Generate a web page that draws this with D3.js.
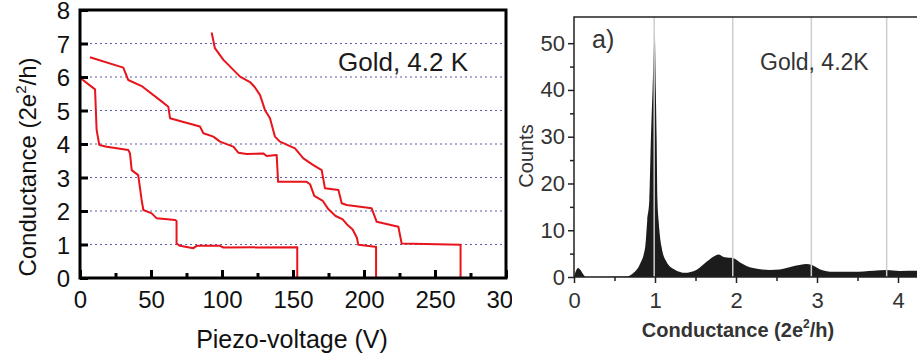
<!DOCTYPE html>
<html lang="en">
<head>
    <meta charset="UTF-8">
    <script src="https://d3js.org/d3.v7.min.js"></script>
    <title>Gold 4.2 K conductance</title>
</head>
<style>
    body{
        margin: 0;
        background: #fff;
    }
    svg text{
        font-family: "Liberation Sans", Arial, sans-serif;
    }
</style>
<body>
    <div id='grafico'></div>
</body>
<script>
    // traces: piezo-voltage (V) vs conductance (2e^2/h)
    var voltsA = [0, 10.6, 11.7, 13.6, 18.8, 34, 35.2, 36.4, 41, 43.4, 44.6, 50.5, 54, 67, 68, 68, 70.4, 79.8, 82.2, 98.6, 101, 153, 153]
    var condA  = [5.98, 5.63, 4.42, 3.97, 3.92, 3.82, 3.72, 3.22, 3.07, 2.33, 2.03, 1.93, 1.78, 1.73, 1.7, 1.03, 0.96, 0.89, 0.96, 0.96, 0.91, 0.92, 0]

    var voltsB = [7, 30.5, 34, 43.4, 56.3, 62.2, 63.4, 71.6, 84.5, 86.9, 93.9, 98.6, 108, 111.5, 117.4, 129, 131.5, 138.5, 139.5, 159.6, 162, 165, 171, 175, 180, 185, 188, 192, 195, 196, 207.7, 208.5, 208.5]
    var condB  = [6.59, 6.28, 5.91, 5.73, 5.31, 5.11, 4.77, 4.67, 4.52, 4.32, 4.22, 4.07, 3.92, 3.74, 3.7, 3.72, 3.64, 3.67, 2.87, 2.87, 2.8, 2.45, 2.3, 2.05, 1.85, 1.75, 1.6, 1.45, 1.2, 0.99, 0.93, 0.93, 0]

    var voltsC = [92.7, 95, 101, 112.7, 119.7, 123, 126.8, 130.3, 133.8, 135.5, 137.3, 140.8, 151.4, 157.3, 164.3, 170.2, 172.5, 182, 184.3, 187.8, 205.4, 208.9, 224.2, 226.5, 268, 268]
    var condC  = [7.33, 6.86, 6.51, 6.01, 5.85, 5.7, 5.46, 5.01, 4.77, 4.5, 4.22, 4.07, 3.87, 3.57, 3.37, 3.22, 2.68, 2.63, 2.23, 2.18, 2.08, 1.68, 1.53, 1.03, 0.99, 0]

    var leftXTicks = [0, 50, 100, 150, 200, 250, 300]
    var leftXMinor = [25, 75, 125, 175, 225, 275]
    var leftYTicks = [0, 1, 2, 3, 4, 5, 6, 7, 8]
    var leftGrid = [1, 2, 3, 4, 5, 6, 7]

    // histogram: conductance (2e^2/h) vs counts
    var histCond   = [0, 0.05, 0.15, 0.65, 0.73, 0.81, 0.88, 0.905, 0.93, 0.95, 0.97, 0.997, 1.01, 1.02, 1.03, 1.045, 1.08, 1.14, 1.25, 1.37, 1.51, 1.64, 1.76, 1.78, 1.86, 1.97, 2.05, 2.21, 2.42, 2.54, 2.73, 2.87, 2.93, 3.04, 3.2, 3.45, 3.7, 3.86, 4.02, 4.23, 4.6]
    var histCounts = [0, 1.9, 0, 0.1, 0.8, 2.6, 6.5, 12.2, 16.5, 30, 40, 52, 40, 30, 16.5, 12, 6.5, 3.3, 1.5, 0.9, 1.5, 3.3, 4.7, 4.8, 4.2, 4.0, 3.1, 1.9, 1.5, 1.6, 2.4, 2.8, 2.6, 1.6, 1.1, 1.1, 1.35, 1.5, 1.3, 1.35, 1.35]
    var histGrid = [0.99, 1.96, 2.93, 3.86]
    var rightXTicks = [0, 1, 2, 3, 4, 5]
    var rightXMinor = [0.5, 1.5, 2.5, 3.5, 4.5]
    var rightYTicks = [0, 10, 20, 30, 40, 50]
    var rightYMinor = [5, 15, 25, 35, 45]

    var svg = d3.select('#grafico')
    .append('svg')
    .attr('width', 917)
    .attr('height', 360)

    // ---------- left panel ----------
    svg.append('clipPath')
    .attr('id', 'corte')
    .append('rect')
    .attr('x', 0).attr('y', 0).attr('width', 512).attr('height', 360)

    var esq = svg.append('g').attr('clip-path', 'url(#corte)')

    var xL = d3.scaleLinear().domain([0, 300]).range([80, 506])
    var yL = d3.scaleLinear().domain([0, 8]).range([278, 10])

    esq.selectAll('.grid')
    .data(leftGrid)
    .enter()
    .append('line')
    .attr('x1', xL(0)).attr('x2', xL(300))
    .attr('y1', d => yL(d)).attr('y2', d => yL(d))
    .attr('stroke', '#5c5ca8')
    .attr('stroke-width', 1)
    .attr('stroke-dasharray', '2,3')

    var linha = d3.line()
    .x(d => xL(d[0]))
    .y(d => yL(d[1]))

    var tracos = [[voltsA, condA], [voltsB, condB], [voltsC, condC]]
    tracos.forEach(t => {
        esq.append('path')
        .datum(t[0].map((v, i) => [v, t[1][i]]))
        .attr('d', linha)
        .attr('fill', 'none')
        .attr('stroke', '#e8141c')
        .attr('stroke-width', 2)
        .attr('stroke-linejoin', 'round')
    })

    var eixoX = esq.append('g')
    .attr('transform', 'translate(0,' + yL(0) + ')')
    .call(d3.axisBottom(xL).tickValues(leftXTicks).tickSize(-8).tickPadding(13).tickFormat(d3.format('d')))
    eixoX.append('g')
    .call(d3.axisBottom(xL).tickValues(leftXMinor).tickSize(-5).tickFormat(''))

    var eixoY = esq.append('g')
    .attr('transform', 'translate(' + xL(0) + ',0)')
    .call(d3.axisLeft(yL).tickValues(leftYTicks).tickSize(-8).tickPadding(10))
    eixoY.selectAll('.tick text').attr('dy', '0.37em')

    esq.selectAll('.domain').remove()
    esq.selectAll('.tick line').attr('stroke', '#000').attr('stroke-width', 3)
    esq.selectAll('.tick text').attr('font-size', 24).attr('fill', '#111')

    // frame
    esq.append('rect')
    .attr('x', xL(0)).attr('y', yL(8))
    .attr('width', xL(300) - xL(0)).attr('height', yL(0) - yL(8))
    .attr('fill', 'none')
    .attr('stroke', '#000')
    .attr('stroke-width', 3)

    esq.append('text')
    .attr('x', 338).attr('y', 71)
    .attr('font-size', 26)
    .attr('fill', '#1a1a1a')
    .text('Gold, 4.2 K')

    esq.append('text')
    .attr('x', 292).attr('y', 348)
    .attr('text-anchor', 'middle')
    .attr('font-size', 25)
    .attr('fill', '#111')
    .text('Piezo-voltage (V)')

    var tituloY = esq.append('text')
    .attr('transform', 'translate(36,167) rotate(-90)')
    .attr('text-anchor', 'middle')
    .attr('font-size', 24)
    .attr('fill', '#111')
    tituloY.append('tspan').text('Conductance (2e')
    tituloY.append('tspan').attr('font-size', 15).attr('dy', -10).text('2')
    tituloY.append('tspan').attr('dy', 10).text('/h)')

    // ---------- right panel ----------
    var xR = d3.scaleLinear().domain([0, 5]).range([574, 979])
    var yR = d3.scaleLinear().domain([0, 55]).range([277, 19.8])

    var area = d3.area()
    .x((d, i) => xR(histCond[i]))
    .y0(yR(0))
    .y1(d => yR(d))
    .curve(d3.curveMonotoneX)

    svg.append('path')
    .datum(histCounts)
    .attr('d', area)
    .attr('fill', '#1c1c1c')

    svg.selectAll('.vgrid')
    .data(histGrid)
    .enter()
    .append('line')
    .attr('x1', d => xR(d)).attr('x2', d => xR(d))
    .attr('y1', 17).attr('y2', yR(0))
    .attr('stroke', '#cdcdcd')
    .attr('stroke-width', 1.5)

    var dir = svg.append('g')

    dir.append('g')
    .attr('transform', 'translate(0,' + yR(0) + ')')
    .call(d3.axisBottom(xR).tickValues(rightXTicks).tickSize(6).tickPadding(9).tickFormat(d3.format('d')))
    dir.append('g')
    .attr('transform', 'translate(0,' + yR(0) + ')')
    .call(d3.axisBottom(xR).tickValues(rightXMinor).tickSize(4).tickFormat(''))
    dir.append('g')
    .attr('transform', 'translate(' + xR(0) + ',0)')
    .call(d3.axisLeft(yR).tickValues(rightYTicks).tickSize(6).tickPadding(3))
    dir.append('g')
    .attr('transform', 'translate(' + xR(0) + ',0)')
    .call(d3.axisLeft(yR).tickValues(rightYMinor).tickSize(4).tickFormat(''))

    dir.selectAll('.domain').remove()
    dir.selectAll('.tick line').attr('stroke', '#222').attr('stroke-width', 1.5)
    dir.selectAll('.tick text').attr('font-size', 22).attr('fill', '#333')

    // axis lines
    dir.append('path')
    .attr('d', 'M' + xR(5) + ',17H' + xR(0) + 'V' + yR(0) + 'H' + xR(5))
    .attr('fill', 'none')
    .attr('stroke', '#222')
    .attr('stroke-width', 1.5)

    dir.append('text')
    .attr('x', 592).attr('y', 48)
    .attr('font-size', 25)
    .attr('fill', '#333')
    .text('a)')

    dir.append('text')
    .attr('x', 760).attr('y', 70)
    .attr('font-size', 23)
    .attr('fill', '#333')
    .text('Gold, 4.2K')

    dir.append('text')
    .attr('transform', 'translate(533,156) rotate(-90)')
    .attr('text-anchor', 'middle')
    .attr('font-size', 20)
    .attr('fill', '#333')
    .text('Counts')

    var tituloX = dir.append('text')
    .attr('x', 738).attr('y', 337)
    .attr('text-anchor', 'middle')
    .attr('font-size', 20)
    .attr('font-weight', 'bold')
    .attr('fill', '#333')
    tituloX.append('tspan').text('Conductance (2e')
    tituloX.append('tspan').attr('font-size', 12).attr('dy', -9).text('2')
    tituloX.append('tspan').attr('dy', 9).text('/h)')
</script>
</html>
